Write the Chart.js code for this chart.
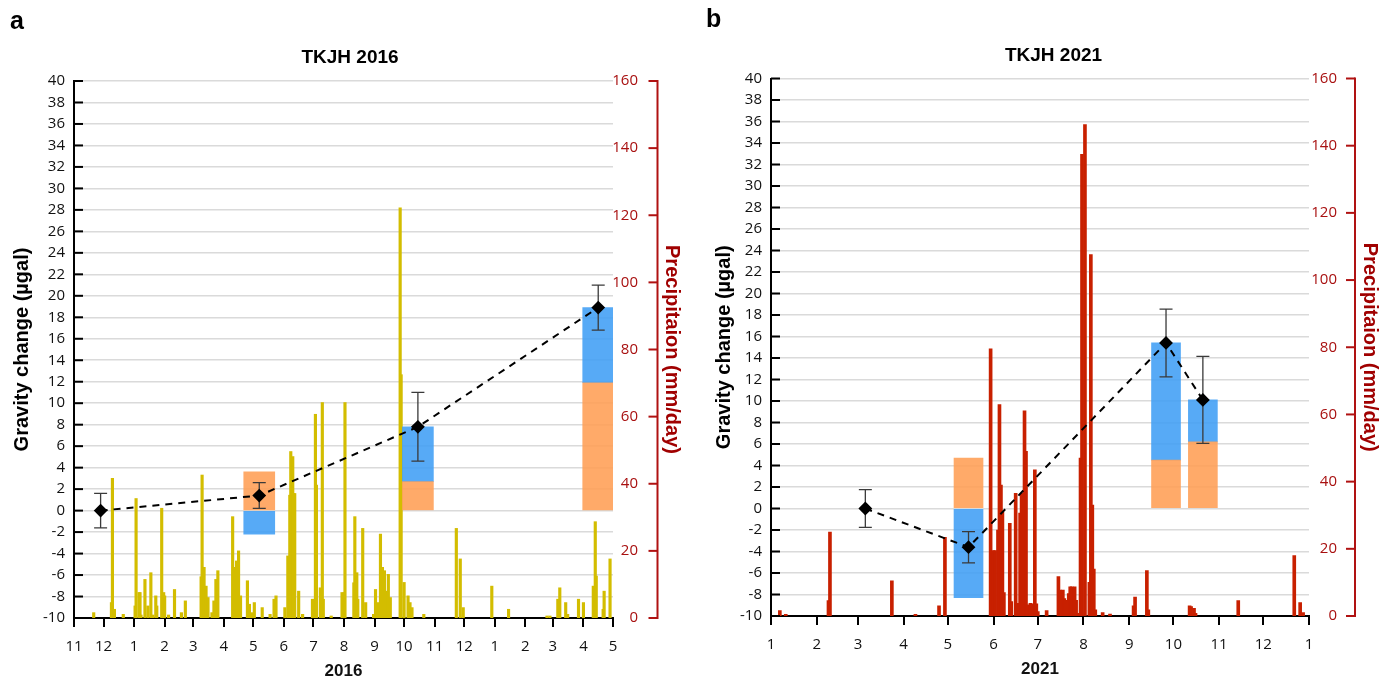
<!DOCTYPE html>
<html>
<head>
<meta charset="utf-8">
<title>TKJH gravity change and precipitation</title>
<script src="https://cdn.jsdelivr.net/npm/chart.js@4.4.1/dist/chart.umd.min.js"></script>
<style>
  html, body { margin: 0; padding: 0; background: #fff; width: 1390px; height: 679px; overflow: hidden; }
  .panel { position: absolute; top: 0; height: 679px; }
  #wrapA { left: 0; width: 695px; }
  #wrapB { left: 700px; width: 690px; }
  .tag { position: absolute; font: bold 25px "Liberation Sans", Arial, sans-serif; line-height: 25px; color: #000; }
</style>
</head>
<body>
<div class="panel" id="wrapA"><canvas id="chartA" width="695" height="679"></canvas></div>
<div class="panel" id="wrapB"><canvas id="chartB" width="690" height="679"></canvas></div>
<div class="tag" style="left:10px; top:8px;">a</div>
<div class="tag" style="left:706px; top:6px;">b</div>
<script>
// ---------- Panel a: TKJH 2016 ----------
const monthLabelsA = ['11','12','1','2','3','4','5','6','7','8','9','10','11','12','1','2','3','4','5'];

const rainDatesA = ['2015-11-21','2015-12-09','2015-12-10','2015-12-12','2015-12-21','2016-01-02','2016-01-03','2016-01-06','2016-01-07','2016-01-08','2016-01-12','2016-01-15','2016-01-18','2016-01-20','2016-01-23','2016-01-24','2016-01-29','2016-01-31','2016-02-01','2016-02-05','2016-02-11','2016-02-18','2016-02-22','2016-03-09','2016-03-10','2016-03-12','2016-03-14','2016-03-16','2016-03-20','2016-03-22','2016-03-24','2016-03-26','2016-04-10','2016-04-12','2016-04-14','2016-04-16','2016-04-18','2016-04-25','2016-04-27','2016-04-30','2016-05-02','2016-05-10','2016-05-18','2016-05-22','2016-05-24','2016-06-02','2016-06-05','2016-06-07','2016-06-08','2016-06-10','2016-06-11','2016-06-12','2016-06-16','2016-06-20','2016-06-30','2016-07-03','2016-07-04','2016-07-08','2016-07-10','2016-07-11','2016-07-19','2016-07-30','2016-08-01','2016-08-02','2016-08-11','2016-08-12','2016-08-14','2016-08-15','2016-08-20','2016-08-23','2016-08-31','2016-09-02','2016-09-04','2016-09-07','2016-09-09','2016-09-11','2016-09-13','2016-09-15','2016-09-17','2016-09-27','2016-09-28','2016-10-01','2016-10-05','2016-10-07','2016-10-09','2016-10-21','2016-11-23','2016-11-27','2016-11-30','2016-12-29','2017-01-15','2017-02-23','2017-02-26','2017-03-06','2017-03-08','2017-03-14','2017-03-16','2017-03-27','2017-04-01','2017-04-11','2017-04-13','2017-04-14','2017-04-21','2017-04-22','2017-04-28'];
const rainMmA = [1.6,4.6,41.6,2.6,1.1,3.6,35.6,7.6,7.6,0.9,11.5,3.6,13.5,0.9,6.6,3.6,32.7,7.6,6.6,0.9,8.5,1.6,5.1,12.3,42.6,15.1,9.5,6.1,1.6,5.1,11.5,14.1,30.2,15.1,17.0,20.0,6.6,11.1,4.1,1.6,4.6,3.1,1.1,5.6,6.6,3.1,18.5,36.6,49.6,48.1,37.1,37.1,8.0,1.1,5.6,60.7,39.6,9.0,64.2,5.6,0.6,7.6,7.6,64.2,10.5,30.2,13.5,5.6,26.7,4.6,1.1,8.5,4.6,25.0,15.1,14.1,8.0,13.0,6.1,122.2,72.5,10.6,6.6,4.6,3.1,1.1,26.7,17.6,3.1,9.5,2.6,0.6,0.6,5.6,9.0,4.6,1.1,5.6,4.6,9.5,28.7,12.5,2.6,8.0,17.6];

const gravDatesA = ['2015-11-28','2016-05-07','2016-10-15','2017-04-16'];
const gravA      = [0, 1.4, 7.8, 18.9];
const gravErrA   = [1.6, 1.2, 3.2, 2.1];
const partOrangeA = [null, 3.6, 2.7, 11.9];
const partBlueA   = [null, -2.2, 5.1, 7.0];

// ---------- Panel b: TKJH 2021 ----------
const monthLabelsB = ['1','2','3','4','5','6','7','8','9','10','11','12','1'];

const rainDatesB = ['2021-01-07','2021-01-11','2021-02-09','2021-02-10','2021-03-24','2021-04-09','2021-04-25','2021-04-29','2021-05-30','2021-06-01','2021-06-02','2021-06-04','2021-06-05','2021-06-06','2021-06-07','2021-06-08','2021-06-12','2021-06-13','2021-06-16','2021-06-17','2021-06-19','2021-06-20','2021-06-22','2021-06-23','2021-06-24','2021-06-26','2021-06-27','2021-06-29','2021-06-30','2021-07-01','2021-07-07','2021-07-15','2021-07-16','2021-07-18','2021-07-19','2021-07-20','2021-07-21','2021-07-22','2021-07-23','2021-07-24','2021-07-26','2021-07-27','2021-07-28','2021-07-30','2021-07-31','2021-08-02','2021-08-05','2021-08-06','2021-08-07','2021-08-08','2021-08-09','2021-08-14','2021-08-19','2021-09-04','2021-09-05','2021-09-13','2021-09-14','2021-10-12','2021-10-13','2021-10-15','2021-10-16','2021-11-14','2021-12-22','2021-12-26','2021-12-28'];
const rainMmB = [1.6,0.5,4.6,25.0,10.5,0.5,3.0,23.4,79.5,19.5,19.5,25.6,62.9,39.0,31.0,7.0,27.6,4.3,36.5,3.8,30.6,36.5,61.1,49.0,3.3,3.8,3.6,43.5,3.6,1.3,1.6,11.7,7.7,7.7,5.2,4.7,3.7,6.7,8.7,8.7,8.7,4.7,0.8,47.0,137.4,146.3,10.0,107.6,33.0,14.0,1.8,1.0,0.6,3.0,5.6,13.5,1.8,3.0,2.8,2.3,0.8,4.6,18.0,4.0,1.0];

const gravDatesB = ['2021-03-06','2021-05-15','2021-09-26','2021-10-21'];
const gravB      = [0, -3.6, 15.4, 10.1];
const gravErrB   = [1.75, 1.45, 3.15, 4.05];
const partOrangeB = [null, 4.7, 4.5, 6.2];
const partBlueB   = [null, -8.3, 10.9, 3.9];

// ---------- helpers ----------
const DAY_MS = 86400000;
const toUTC = s => { const [y, m, d] = s.split('-').map(Number); return Date.UTC(y, m - 1, d); };

// Inward tick marks on the gravity axis and the detached precipitation axis on the right.
const axisDecor = {
  id: 'axisDecor',
  afterDraw(chart, args, opts) {
    const { ctx, chartArea, scales } = chart;
    const y = scales.y, y2 = scales.y2;
    ctx.save();
    ctx.lineWidth = 2;
    ctx.strokeStyle = '#000';
    y.ticks.forEach(t => {
      const py = y.getPixelForValue(t.value);
      ctx.beginPath();
      ctx.moveTo(chartArea.left, py);
      ctx.lineTo(chartArea.left + 9, py);
      ctx.stroke();
    });
    const ax = chartArea.right + opts.gap;
    ctx.strokeStyle = opts.color;
    ctx.beginPath();
    ctx.moveTo(ax, y2.getPixelForValue(y2.max) - 1);
    ctx.lineTo(ax, y2.getPixelForValue(y2.min) + 1);
    ctx.stroke();
    y2.ticks.forEach(t => {
      const py = y2.getPixelForValue(t.value);
      ctx.beginPath();
      ctx.moveTo(ax, py);
      ctx.lineTo(ax - 9, py);
      ctx.stroke();
    });
    ctx.restore();
  }
};

// Error bars for the gravity points, drawn just before the dashed line.
const errorBars = {
  id: 'errorBars',
  beforeDatasetDraw(chart, args, opts) {
    if (args.index !== 0) return;
    const { ctx, scales } = chart;
    const x = scales.x, y = scales.y;
    ctx.save();
    ctx.strokeStyle = '#3a3a3a';
    ctx.lineWidth = 1.3;
    opts.points.forEach(p => {
      const px = x.getPixelForValue(p.x);
      const top = y.getPixelForValue(p.y + p.err);
      const bot = y.getPixelForValue(p.y - p.err);
      ctx.beginPath();
      ctx.moveTo(px, top); ctx.lineTo(px, bot);
      ctx.moveTo(px - 6.5, top); ctx.lineTo(px + 6.5, top);
      ctx.moveTo(px - 6.5, bot); ctx.lineTo(px + 6.5, bot);
      ctx.stroke();
    });
    ctx.restore();
  }
};

function buildPanel(canvasId, p) {
  const t0 = toUTC(p.start);
  const day = s => (toUTC(s) - t0) / DAY_MS;
  const span = day(p.end);
  const [sy, sm] = p.start.split('-').map(Number);
  const monthTicks = p.monthLabels.map((_, i) => (Date.UTC(sy, sm - 1 + i, 1) - t0) / DAY_MS);

  const rain = p.rainDates.map((d, i) => ({ x: day(d), y: p.rainMm[i] }));
  const grav = p.gravDates.map((d, i) => ({ x: day(d), y: p.grav[i] }));
  const orange = p.gravDates.map((d, i) => ({ x: day(d), y: p.partOrange[i] })).filter(o => o.y !== null);
  const blue = p.gravDates.map((d, i) => ({ x: day(d), y: p.partBlue[i] })).filter(o => o.y !== null);
  const errs = p.gravDates.map((d, i) => ({ x: day(d), y: p.grav[i], err: p.gravErr[i] }));

  const tickFont = { family: 'Open Sans', size: 15 };
  const red = '#A81010';

  return new Chart(document.getElementById(canvasId), {
    type: 'bar',
    data: {
      datasets: [
        {
          type: 'line', label: 'Gravity change', data: grav,
          xAxisID: 'x', yAxisID: 'y', stack: 'trend', order: 0,
          borderColor: '#000', borderWidth: 2, borderDash: [7, 6], tension: 0, fill: false,
          pointStyle: 'rectRot', pointRadius: 5.5, pointBackgroundColor: '#000', pointBorderColor: '#000'
        },
        {
          label: 'Part 1', data: orange, xAxisID: 'x', yAxisID: 'y', stack: 'parts', order: 1,
          grouped: false, barThickness: p.boxWidth, backgroundColor: 'rgba(255,158,84,0.88)'
        },
        {
          label: 'Part 2', data: blue, xAxisID: 'x', yAxisID: 'y', stack: 'parts', order: 2,
          grouped: false, barThickness: p.boxWidth, backgroundColor: 'rgba(64,158,245,0.88)'
        },
        {
          label: 'Precipitation', data: rain, xAxisID: 'x', yAxisID: 'y2', stack: 'rain', order: 3,
          grouped: false, barThickness: p.rainWidth, backgroundColor: p.rainColor
        }
      ]
    },
    options: {
      responsive: false,
      animation: false,
      layout: { padding: { left: p.padL, right: 0, top: 0, bottom: 0 } },
      plugins: {
        legend: { display: false },
        tooltip: { enabled: false },
        title: {
          display: true, text: p.title, color: '#000',
          font: { family: 'Liberation Sans', size: 19, weight: 'bold', lineHeight: 1.2 },
          padding: { top: p.titleTop, bottom: p.titleBottom }
        },
        axisDecor: { gap: p.axisGap, color: '#B01212' },
        errorBars: { points: errs }
      },
      scales: {
        x: {
          type: 'linear', position: 'bottom', min: 0, max: span, offset: false,
          grid: { offset: false, drawOnChartArea: false, drawTicks: true, tickLength: 9, color: '#000', lineWidth: 2 },
          border: { color: '#000', width: 2 },
          ticks: {
            autoSkip: false, maxRotation: 0, padding: 11, font: tickFont, color: '#111',
            callback: (v, i) => p.monthLabels[i]
          },
          afterBuildTicks: s => { s.ticks = monthTicks.map(v => ({ value: v })); },
          afterFit: s => { s.height = p.xHeight; },
          title: {
            display: true, text: p.year, color: '#111',
            font: { family: 'Liberation Sans', size: 17, weight: 'bold', lineHeight: 0.85 },
            padding: { top: 0, bottom: p.yearPad }
          }
        },
        y: {
          type: 'linear', position: 'left', min: -10, max: 40, stacked: true,
          ticks: { stepSize: 2, autoSkip: false, padding: 9, font: tickFont, color: '#111' },
          grid: { color: '#DADADA', lineWidth: 1.5, drawTicks: false },
          border: { color: '#000', width: 2 },
          afterFit: s => { s.width = p.yWidth; },
          title: {
            display: true, text: 'Gravity change (µgal)', color: '#000',
            font: { family: 'Liberation Sans', size: 20, weight: 'bold', lineHeight: 1.2 },
            padding: { top: p.yTitlePad, bottom: 0 }
          }
        },
        y2: {
          type: 'linear', position: 'right', min: 0, max: 160, weight: 0,
          grid: { display: false, drawTicks: false },
          border: { display: false },
          ticks: { stepSize: 20, crossAlign: 'far', font: tickFont, color: red },
          afterFit: s => { s.width = p.y2Width; },
          title: {
            display: true, text: 'Precipitaion (mm/day)', color: '#A00000',
            font: { family: 'Liberation Sans', size: 20, weight: 'bold', lineHeight: 1.2 },
            padding: { top: p.y2TitlePad, bottom: 0 }
          }
        },
        // empty outer strip that holds the precipitation axis line and its title
        yOuter: {
          type: 'linear', position: 'right', weight: 1, display: true,
          grid: { display: false, drawTicks: false },
          border: { display: false },
          ticks: { display: false },
          afterFit: s => { s.width = p.outerWidth; }
        }
      }
    },
    plugins: [axisDecor, errorBars]
  });
}

buildPanel('chartA', {
  title: 'TKJH 2016', year: '2016', start: '2015-11-01', end: '2017-05-01',
  monthLabels: monthLabelsA, rainDates: rainDatesA, rainMm: rainMmA,
  gravDates: gravDatesA, grav: gravA, gravErr: gravErrA, partOrange: partOrangeA, partBlue: partBlueA,
  rainColor: '#D3BD00', rainWidth: 2.5, boxWidth: 31,
  padL: 5, yWidth: 69, y2Width: 25, outerWidth: 57, xHeight: 61,
  titleTop: 46, titleBottom: 12.2, yTitlePad: 5, y2TitlePad: -46, yearPad: 0, axisGap: 44.5
});

buildPanel('chartB', {
  title: 'TKJH 2021', year: '2021', start: '2021-01-01', end: '2022-01-01',
  monthLabels: monthLabelsB, rainDates: rainDatesB, rainMm: rainMmB,
  gravDates: gravDatesB, grav: gravB, gravErr: gravErrB, partOrange: partOrangeB, partBlue: partBlueB,
  rainColor: '#C82000', rainWidth: 3, boxWidth: 29,
  padL: 17, yWidth: 54, y2Width: 28, outerWidth: 53, xHeight: 63,
  titleTop: 44, titleBottom: 11.7, yTitlePad: -5, y2TitlePad: -45, yearPad: 2.5, axisGap: 46
});
</script>
</body>
</html>
